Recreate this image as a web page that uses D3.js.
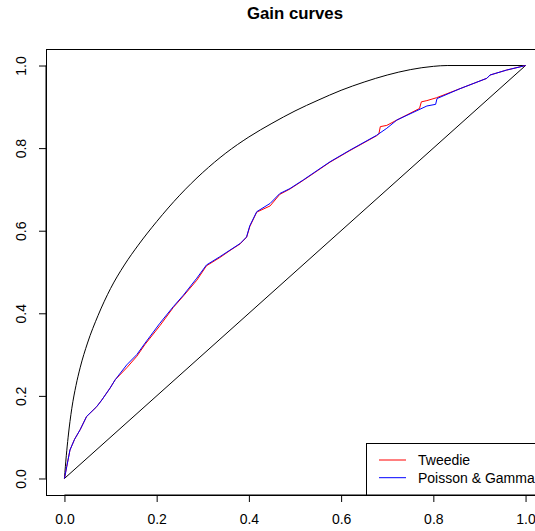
<!DOCTYPE html>
<html>
<head>
<meta charset="utf-8">
<script src="https://cdn.jsdelivr.net/npm/d3@7"></script>
<style>
  body { margin: 0; background: #fff; }
  svg { display: block; font-family: "Liberation Sans", Arial, sans-serif; }
</style>
</head>
<body>
<div id="chart"></div>
<script>
// tick labels
const xTicks = [0, 0.2, 0.4, 0.6, 0.8, 1.0];
const yTicks = [0, 0.2, 0.4, 0.6, 0.8, 1.0];

// oracle (best possible) gain curve
const oracleX = [0, 0.004, 0.008, 0.016, 0.025, 0.034, 0.050, 0.073, 0.100, 0.130, 0.160, 0.200, 0.250, 0.300, 0.350, 0.400, 0.450, 0.500, 0.550, 0.600, 0.650, 0.700, 0.750, 0.800, 0.830, 1.0];
const oracleY = [0, 0.055, 0.100, 0.170, 0.225, 0.268, 0.328, 0.395, 0.460, 0.517, 0.565, 0.622, 0.686, 0.741, 0.788, 0.827, 0.860, 0.890, 0.916, 0.940, 0.960, 0.977, 0.990, 0.998, 1.0, 1.0];

// Tweedie model
const tweedieX = [0, 0.005, 0.012, 0.022, 0.034, 0.048, 0.070, 0.081, 0.099, 0.110, 0.135, 0.157, 0.175, 0.207, 0.236, 0.258, 0.287, 0.308, 0.337, 0.359, 0.381, 0.395, 0.402, 0.417, 0.446, 0.467, 0.489, 0.518, 0.576, 0.619, 0.677, 0.682, 0.685, 0.699, 0.721, 0.770, 0.774, 0.786, 0.807, 0.858, 0.916, 0.923, 0.959, 1.0];
const tweedieY = [0, 0.029, 0.069, 0.095, 0.118, 0.150, 0.174, 0.190, 0.219, 0.239, 0.268, 0.296, 0.325, 0.370, 0.414, 0.442, 0.480, 0.515, 0.535, 0.552, 0.568, 0.584, 0.610, 0.645, 0.660, 0.688, 0.701, 0.722, 0.766, 0.794, 0.830, 0.835, 0.852, 0.855, 0.868, 0.896, 0.912, 0.915, 0.922, 0.944, 0.969, 0.977, 0.989, 1.0];

// Poisson & Gamma model
const poissonX = [0, 0.005, 0.012, 0.022, 0.034, 0.048, 0.070, 0.081, 0.099, 0.110, 0.135, 0.157, 0.175, 0.207, 0.236, 0.258, 0.287, 0.308, 0.337, 0.359, 0.381, 0.395, 0.402, 0.417, 0.446, 0.467, 0.489, 0.518, 0.576, 0.619, 0.677, 0.699, 0.721, 0.786, 0.805, 0.808, 0.858, 0.916, 0.923, 0.959, 1.0];
const poissonY = [0, 0.029, 0.069, 0.095, 0.118, 0.150, 0.174, 0.190, 0.219, 0.239, 0.275, 0.300, 0.328, 0.376, 0.416, 0.444, 0.485, 0.517, 0.537, 0.553, 0.569, 0.585, 0.612, 0.646, 0.666, 0.690, 0.702, 0.723, 0.767, 0.795, 0.831, 0.848, 0.868, 0.902, 0.906, 0.920, 0.944, 0.969, 0.977, 0.989, 1.0];

const legendNames = ["Tweedie", "Poisson & Gamma"];
const legendColors = ["#ff0000", "#0000ff"];

const W = 535, H = 531;
const box = { left: 46, right: 544, top: 49, bottom: 495 };

const svg = d3.select("#chart").append("svg")
    .attr("width", W)
    .attr("height", H);

// R style 4% axis expansion
const x = d3.scaleLinear().domain([-0.04, 1.04]).range([box.left, box.right]);
const y = d3.scaleLinear().domain([-0.04, 1.04]).range([box.bottom, box.top]);

// title
svg.append("text")
    .attr("x", (box.left + box.right) / 2)
    .attr("y", 19)
    .attr("text-anchor", "middle")
    .style("font-size", "16.8px")
    .style("font-weight", "bold")
    .text("Gain curves");

// axes
const xAxis = svg.append("g")
    .attr("transform", `translate(0,${box.bottom})`)
    .call(d3.axisBottom(x).tickValues(xTicks).tickFormat(d3.format(".1f")).tickSize(7).tickPadding(12));
xAxis.select(".domain").attr("d", `M${x(0)},0H${x(1)}`);
xAxis.selectAll("text").style("font-size", "14px").attr("fill", "#000");

const yAxis = svg.append("g")
    .attr("transform", `translate(${box.left},0)`)
    .call(d3.axisLeft(y).tickValues(yTicks).tickFormat(d3.format(".1f")).tickSize(7));
yAxis.select(".domain").attr("d", `M0,${y(0)}V${y(1)}`);
yAxis.selectAll("text")
    .style("font-size", "14px")
    .attr("fill", "#000")
    .attr("text-anchor", "middle")
    .attr("x", null).attr("dy", null)
    .attr("transform", "translate(-20,0) rotate(-90)");

// plot box
svg.append("rect")
    .attr("x", box.left + 0.5)
    .attr("y", box.top + 0.5)
    .attr("width", box.right - box.left)
    .attr("height", box.bottom - box.top)
    .attr("fill", "none")
    .attr("stroke", "#000");

const line = d3.line().x(d => x(d[0])).y(d => y(d[1]));
const smooth = d3.line().x(d => x(d[0])).y(d => y(d[1])).curve(d3.curveMonotoneX);

// random model diagonal
svg.append("path")
    .attr("d", line([[0, 0], [1, 1]]))
    .attr("fill", "none")
    .attr("stroke", "#000");

// oracle
svg.append("path")
    .attr("d", smooth(d3.zip(oracleX, oracleY)))
    .attr("fill", "none")
    .attr("stroke", "#000");

svg.append("path")
    .attr("d", line(d3.zip(tweedieX, tweedieY)))
    .attr("fill", "none")
    .attr("stroke", legendColors[0]);

svg.append("path")
    .attr("d", line(d3.zip(poissonX, poissonY)))
    .attr("fill", "none")
    .attr("stroke", legendColors[1]);

// legend
const lg = svg.append("g");
lg.append("rect")
    .attr("x", 366.5)
    .attr("y", 443.5)
    .attr("width", 200)
    .attr("height", box.bottom - 443.5)
    .attr("fill", "#fff")
    .attr("stroke", "#000");
legendNames.forEach((name, i) => {
    const ly = 460 + i * 17.7;
    lg.append("line")
        .attr("x1", 379).attr("x2", 406)
        .attr("y1", ly).attr("y2", ly)
        .attr("stroke", legendColors[i]);
    lg.append("text")
        .attr("x", 418)
        .attr("y", ly + 5)
        .style("font-size", "14px")
        .text(name);
});
</script>
</body>
</html>
